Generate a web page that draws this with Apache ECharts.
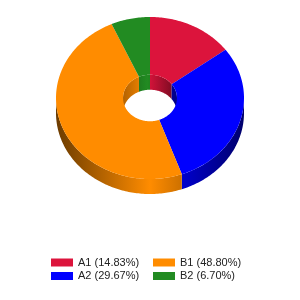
<!DOCTYPE html>
<html><head><meta charset="utf-8">
<script src="https://cdn.jsdelivr.net/npm/echarts@6/dist/echarts.min.js"></script>
<style>html,body{margin:0;padding:0;background:#fff}#c{width:300px;height:300px}</style>
</head><body><div id="c"></div>
<script>
const names = ['A1', 'A2', 'B1', 'B2'];
const values = [14.83, 29.67, 48.80, 6.70];
const colors = ['#DC143C', '#0000FF', '#FF8C00', '#228B22'];

const total = values.reduce((a, b) => a + b, 0);
const starts = [];
let acc = 0;
values.forEach(v => { starts.push(acc); acc += v; });

const CX = 150, CY = 98, RX = 94, RY = 81, RIN = 0.287, DEPTH = 15;
const TAU = Math.PI * 2;

function shade(hex, f) {
  const n = parseInt(hex.slice(1), 16);
  const r = Math.round(((n >> 16) & 255) * f), g = Math.round(((n >> 8) & 255) * f), b = Math.round((n & 255) * f);
  return 'rgb(' + r + ',' + g + ',' + b + ')';
}
function arc(a0, a1, rx, ry, dy) {
  const pts = [];
  const n = Math.max(2, Math.ceil(Math.abs(a1 - a0) / (Math.PI / 180)));
  for (let i = 0; i <= n; i++) {
    const t = a0 + (a1 - a0) * i / n;
    pts.push([CX + rx * Math.sin(t), CY - ry * Math.cos(t) + dy]);
  }
  return pts;
}
function inter(a0, a1, lo, hi) {
  const s = Math.max(a0, lo), e = Math.min(a1, hi);
  return e > s ? [s, e] : null;
}
function wall(seg, rx, ry, fill) {
  const top = arc(seg[0], seg[1], rx, ry, 0);
  const bot = arc(seg[1], seg[0], rx, ry, DEPTH);
  return { type: 'polygon', z2: 1, shape: { points: top.concat(bot) }, style: { fill: fill } };
}
function grad(c, x0, x1, stops) {
  return { type: 'linear', x: x0, y: 0, x2: x1, y2: 0, global: true,
    colorStops: stops.map(s => ({ offset: s[0], color: shade(c, s[1]) })) };
}

function renderItem(params, api) {
  const s = api.value(0), v = api.value(1);
  const a0 = s / total * TAU, a1 = (s + v) / total * TAU;
  const c = colors[params.seriesIndex];
  const rxi = RX * RIN, ryi = RY * RIN;
  const children = [];
  const ow = inter(a0, a1, Math.PI / 2, Math.PI * 1.5);
  if (ow) children.push(wall(ow, RX, RY, grad(c, CX - RX, CX + RX, [[0, 0.42], [0.5, 1], [1, 0.42]])));
  const ig = grad(c, CX - rxi, CX + rxi, [[0, 0.7], [0.45, 1], [1, 0.5]]);
  [[0, Math.PI / 2], [Math.PI * 1.5, TAU]].forEach(r => {
    const iw = inter(a0, a1, r[0], r[1]);
    if (iw) children.push(wall(iw, rxi, ryi, ig));
  });
  const topPts = arc(a0, a1, RX, RY, 0).concat(arc(a1, a0, rxi, ryi, 0));
  children.push({ type: 'polygon', z2: 10, shape: { points: topPts }, style: { fill: c } });
  return { type: 'group', children: children };
}

const series = names.map((n, i) => ({
  type: 'custom', name: n, coordinateSystem: 'none', renderItem: renderItem,
  itemStyle: { color: colors[i] }, data: [[starts[i], values[i]]], silent: true
}));

function fmt(name) {
  const i = names.indexOf(name);
  return name + ' (' + (values[i] / total * 100).toFixed(2) + '%)';
}
const legendBase = {
  orient: 'vertical', top: 256.5, padding: 0, itemWidth: 22, itemHeight: 8, itemGap: 1.5,
  icon: 'rect', formatter: fmt, selectedMode: false,
  textStyle: { fontFamily: 'Liberation Sans', fontSize: 11, color: '#222', lineHeight: 12 }
};

const chart = echarts.init(document.getElementById('c'), null, { renderer: 'canvas' });
chart.setOption({
  animation: false,
  backgroundColor: '#fff',
  legend: [
    Object.assign({}, legendBase, { left: 51, data: [names[0], names[1]] }),
    Object.assign({}, legendBase, { left: 153, data: [names[2], names[3]] })
  ],
  series: series
});
</script></body></html>
